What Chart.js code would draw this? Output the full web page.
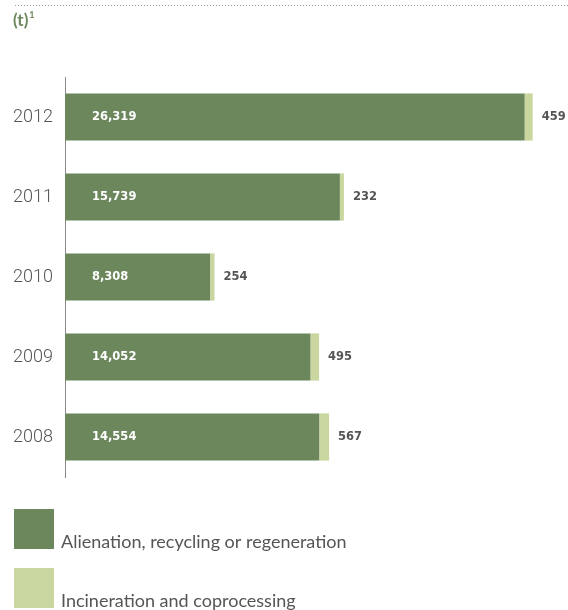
<!DOCTYPE html>
<html>
<head>
<meta charset="utf-8">
<script src="https://cdn.jsdelivr.net/npm/chart.js@4/dist/chart.umd.min.js"></script>
<style>
html,body{margin:0;padding:0;background:#fff;}
#wrap{position:relative;width:568px;height:610px;}
</style>
</head>
<body>
<div id="wrap"><canvas id="c" width="568" height="610"></canvas></div>
<script>
const categories = ['2012', '2011', '2010', '2009', '2008'];
const alienation = [26319, 15739, 8308, 14052, 14554];
const incineration = [459, 232, 254, 495, 567];
const seriesNames = ['Alienation, recycling or regeneration', 'Incineration and coprocessing'];
const unitLabel = '(t)';
const unitNote = '1';

const DARK = '#6b875b';
const LIGHT = '#c9d6a0';
const TEXT = '#555555';
const FONT = 'Lato, "Open Sans", sans-serif';
const NUMFONT = '"DejaVu Sans", Verdana, sans-serif';

const fmt = v => v.toLocaleString('en-US');

const decor = {
  id: 'decor',
  afterDraw(chart) {
    const ctx = chart.ctx;
    const xs = chart.scales.x, ys = chart.scales.y;
    ctx.save();
    // dotted rule
    ctx.fillStyle = '#9a9a9a';
    for (let x = 15; x < 568; x += 3) ctx.fillRect(x, 5, 1, 1);
    // unit title
    ctx.fillStyle = DARK;
    ctx.font = 'bold 17px ' + FONT;
    ctx.textBaseline = 'alphabetic';
    ctx.textAlign = 'left';
    ctx.fillText(unitLabel, 13, 26);
    const w = ctx.measureText(unitLabel).width;
    ctx.font = 'bold 9px ' + FONT;
    ctx.fillText(unitNote, 13 + w + 1, 18);
    // value labels
    ctx.textBaseline = 'middle';
    categories.forEach((c, i) => {
      const y = ys.getPixelForValue(i);
      ctx.font = 'bold 11.5px ' + NUMFONT;
      ctx.fillStyle = '#ffffff';
      ctx.textAlign = 'left';
      ctx.fillText(fmt(alienation[i]), xs.getPixelForValue(0) + 27, y);
      ctx.fillStyle = TEXT;
      ctx.fillText(fmt(incineration[i]), xs.getPixelForValue(alienation[i] + incineration[i]) + 9, y);
    });
    // legend
    const items = chart.data.datasets;
    const tops = [509, 568];
    items.forEach((ds, i) => {
      ctx.fillStyle = ds.backgroundColor;
      ctx.fillRect(14, tops[i], 40, 40);
      ctx.fillStyle = TEXT;
      ctx.font = '18px ' + FONT;
      ctx.textBaseline = 'alphabetic';
      ctx.textAlign = 'left';
      ctx.fillText(ds.label, 61, tops[i] + 39);
    });
    ctx.restore();
  }
};

new Chart(document.getElementById('c'), {
  type: 'bar',
  data: {
    labels: categories,
    datasets: [
      { label: seriesNames[0], data: alienation, backgroundColor: DARK, borderWidth: 0 },
      { label: seriesNames[1], data: incineration, backgroundColor: LIGHT, borderWidth: 0 }
    ]
  },
  options: {
    indexAxis: 'y',
    responsive: false,
    animation: false,
    events: [],
    layout: { padding: { top: 77, bottom: 133, left: 0, right: 14 } },
    datasets: { bar: { barPercentage: 0.59, categoryPercentage: 1.0 } },
    plugins: { legend: { display: false }, tooltip: { enabled: false }, title: { display: false } },
    scales: {
      x: { stacked: true, display: false, min: 0, max: 28000 },
      y: {
        stacked: true,
        grid: { display: false, drawTicks: false },
        border: { display: true, color: '#888888', width: 1 },
        ticks: { color: TEXT, font: { family: 'Roboto, sans-serif', size: 18, weight: '300' }, padding: 12 },
        afterFit(s) { s.width = 65; }
      }
    }
  },
  plugins: [decor]
});
</script>
</body>
</html>
